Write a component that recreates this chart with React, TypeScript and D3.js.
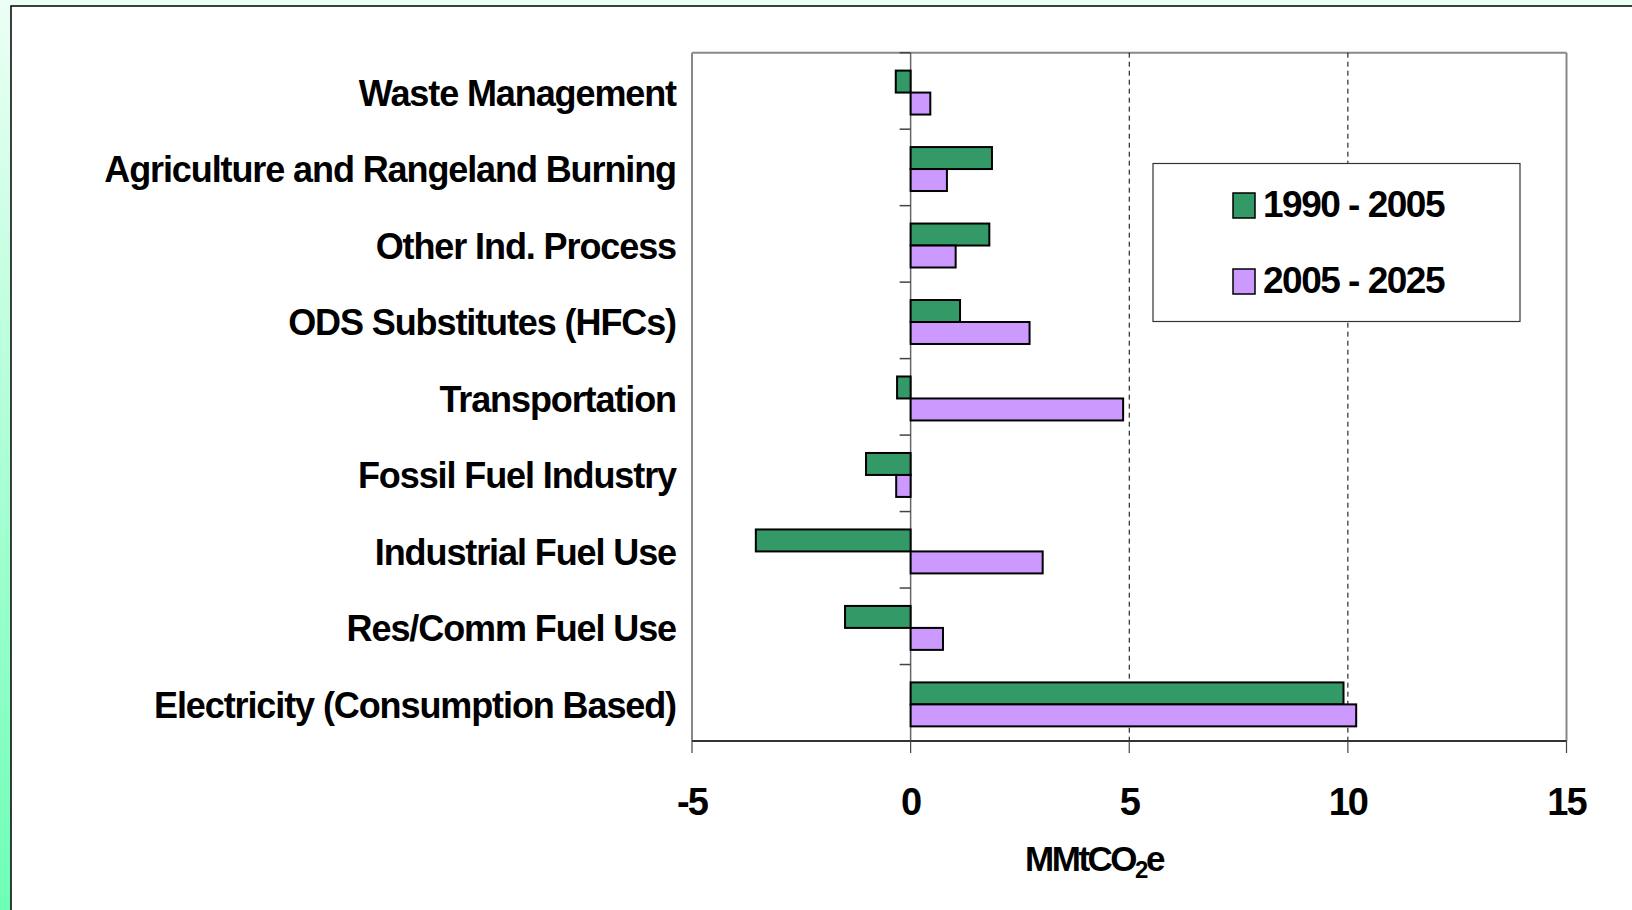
import React from "react";
import * as d3 from "d3";

const categories = [
  "Waste Management",
  "Agriculture and Rangeland Burning",
  "Other Ind. Process",
  "ODS Substitutes (HFCs)",
  "Transportation",
  "Fossil Fuel Industry",
  "Industrial Fuel Use",
  "Res/Comm Fuel Use",
  "Electricity (Consumption Based)",
];
const series = ["1990 - 2005", "2005 - 2025"];
const values1990_2005 = [-0.34, 1.86, 1.8, 1.13, -0.31, -1.02, -3.54, -1.5, 9.9];
const values2005_2025 = [0.45, 0.83, 1.03, 2.72, 4.86, -0.33, 3.02, 0.74, 10.19];
const seriesColors = ["#339966", "#cc99ff"];
const xTicks = [-5, 0, 5, 10, 15];
const gridTicks = [5, 10];

const FONT = "'Liberation Sans', Arial, Helvetica, sans-serif";

export default function App() {
  const W = 1632;
  const H = 910;
  const left = 692;
  const right = 1566.5;
  const top = 52.7;
  const bottom = 741;

  const x = d3.scaleLinear().domain([-5, 15]).range([left, right]);
  const y = d3.scaleBand<string>().domain(categories).range([top, bottom]).padding(0);
  const ys = d3
    .scaleBand<string>()
    .domain(series)
    .range([0, y.bandwidth()])
    .paddingInner(0)
    .paddingOuter(0.74)
    .align(0.55);

  const data = [values1990_2005, values2005_2025];

  return (
    <svg
      width={W}
      height={H}
      style={{ position: "absolute", left: 0, top: 0, display: "block" }}
      fontFamily={FONT}
    >
      <defs>
        <linearGradient id="bg" x1="0" y1="0" x2="0" y2="1">
          <stop offset="0%" stopColor="#ecfff5" />
          <stop offset="100%" stopColor="#6dffb6" />
        </linearGradient>
      </defs>
      <rect x={0} y={0} width={W} height={H} fill="url(#bg)" />
      <rect x={11} y={6} width={W} height={H} fill="#ffffff" stroke="#000" strokeWidth={1.5} />

      {/* plot frame */}
      <line x1={left} y1={top} x2={right} y2={top} stroke="#888" strokeWidth={2} />
      <line x1={left} y1={top} x2={left} y2={bottom} stroke="#888" strokeWidth={2} />
      <line x1={right} y1={top} x2={right} y2={bottom} stroke="#888" strokeWidth={2} />

      {/* dashed gridlines */}
      {gridTicks.map((t) => (
        <line
          key={t}
          x1={x(t)}
          x2={x(t)}
          y1={top}
          y2={bottom}
          stroke="#000"
          strokeWidth={1}
          strokeDasharray="5,4"
        />
      ))}

      {/* zero line */}
      <line x1={x(0)} x2={x(0)} y1={top} y2={bottom} stroke="#666" strokeWidth={1.5} />

      {/* category ticks */}
      {categories.map((c) => (
        <line
          key={"ct" + c}
          x1={x(0) - 11}
          x2={x(0)}
          y1={y(c)!}
          y2={y(c)!}
          stroke="#444"
          strokeWidth={1.5}
        />
      ))}

      {/* bars */}
      {categories.map((c, i) =>
        series.map((s, j) => {
          const v = data[j][i];
          const x0 = x(Math.min(0, v));
          const x1 = x(Math.max(0, v));
          return (
            <rect
              key={c + s}
              x={x0}
              y={y(c)! + ys(s)!}
              width={x1 - x0}
              height={ys.bandwidth()}
              fill={seriesColors[j]}
              stroke="#000"
              strokeWidth={2}
            />
          );
        })
      )}

      {/* x axis */}
      <line x1={left} y1={bottom} x2={right} y2={bottom} stroke="#333" strokeWidth={2} />
      {xTicks.map((t) => (
        <g key={"xt" + t}>
          <line x1={x(t)} x2={x(t)} y1={bottom} y2={bottom + 12} stroke="#444" strokeWidth={1.2} />
          <text
            x={x(t)}
            y={815}
            textAnchor="middle"
            fontSize={38}
            fontWeight="bold"
            letterSpacing={-2}
            fill="#000"
          >
            {t}
          </text>
        </g>
      ))}

      {/* category labels */}
      {categories.map((c) => (
        <text
          key={"cl" + c}
          x={676}
          y={y(c)! + y.bandwidth() / 2 + 15}
          textAnchor="end"
          fontSize={36}
          fontWeight="bold"
          letterSpacing={-1.1}
          fill="#000"
        >
          {c}
        </text>
      ))}

      {/* axis title */}
      <text
        x={1094}
        y={871}
        textAnchor="middle"
        fontSize={35}
        fontWeight="bold"
        letterSpacing={-2.5}
        fill="#000"
      >
        MMtCO
        <tspan fontSize={24} dy={7}>2</tspan>
        <tspan dy={-7}>e</tspan>
      </text>

      {/* legend */}
      <rect x={1153} y={163.5} width={367} height={158} fill="#fff" stroke="#333" strokeWidth={1.2} />
      {series.map((s, j) => (
        <g key={"lg" + s}>
          <rect
            x={1233}
            y={193 + j * 76}
            width={22}
            height={25}
            fill={seriesColors[j]}
            stroke="#000"
            strokeWidth={1.5}
          />
          <text
            x={1263}
            y={216.5 + j * 76}
            fontSize={37}
            fontWeight="bold"
            letterSpacing={-1.5}
            fill="#000"
          >
            {s}
          </text>
        </g>
      ))}
    </svg>
  );
}
